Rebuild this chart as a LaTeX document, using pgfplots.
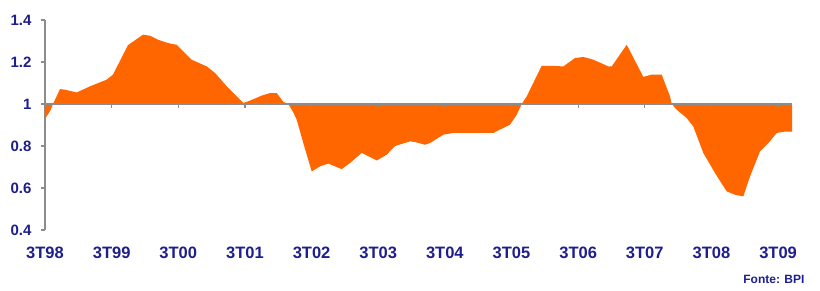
\documentclass[border=0pt]{standalone}
\usepackage{pgfplots}
\pgfplotsset{compat=1.18}
\usepackage{fontspec}
\setmainfont{Liberation Sans}
\definecolor{barorange}{RGB}{255,102,0}
\definecolor{navytxt}{RGB}{30,30,140}
\definecolor{axgray}{RGB}{140,140,140}
\pgfplotstableread{
x y
0 0.93
0.075 0.965
0.12 1.0
0.225 1.071
0.30 1.068
0.476 1.055
0.675 1.084
0.926 1.116
1.02 1.14
1.245 1.28
1.47 1.33
1.576 1.325
1.696 1.306
1.846 1.29
1.976 1.282
2.201 1.211
2.426 1.179
2.551 1.148
2.751 1.076
2.976 1.005
3.076 1.016
3.252 1.04
3.376 1.052
3.477 1.052
3.576 1.01
3.651 1.0
3.726 0.96
3.777 0.925
3.876 0.814
4.002 0.679
4.127 0.703
4.251 0.716
4.452 0.69
4.577 0.719
4.752 0.767
4.978 0.731
5.128 0.759
5.252 0.80
5.477 0.822
5.552 0.819
5.702 0.806
5.777 0.814
5.977 0.854
6.127 0.862
6.727 0.862
6.827 0.878
6.977 0.901
7.078 0.949
7.153 1.0
7.228 1.036
7.453 1.182
7.603 1.182
7.778 1.179
7.953 1.219
8.078 1.224
8.228 1.211
8.453 1.179
8.504 1.179
8.729 1.282
8.978 1.129
9.104 1.14
9.254 1.14
9.379 1.036
9.404 1.0
9.479 0.973
9.629 0.933
9.728 0.893
9.878 0.767
10.054 0.671
10.229 0.584
10.354 0.568
10.479 0.56
10.579 0.655
10.729 0.774
10.854 0.814
10.98 0.862
11.104 0.869
11.209 0.869
11.209 1
0 1
}\series
\begin{document}
\begin{tikzpicture}
\path[use as bounding box] (-45pt,-61pt) rectangle (775pt,230pt);
\begin{axis}[
  at={(0,0)}, anchor=south west,
  scale only axis, width=747pt, height=210pt,
  xmin=0, xmax=11.209, ymin=0.4, ymax=1.4,
  clip=false,
  axis x line*=bottom, axis y line*=left,
  x axis line style={draw=none},
  y axis line style={axgray, line width=1.3pt},
  xtick={0,1,...,11},
  xticklabels={3T98,3T99,3T00,3T01,3T02,3T03,3T04,3T05,3T06,3T07,3T08,3T09},
  xtick style={draw=none},
  ytick={0.4,0.6,0.8,1,1.2,1.4},
  yticklabels={0.4,0.6,0.8,1,1.2,1.4},
  ytick style={axgray, line width=1.2pt},
  tick align=outside,
  major tick length=4pt,
  /pgf/number format/assume math mode=true,
  tick label style={text=navytxt},
  xticklabel style={font=\fontsize{16.5}{18}\selectfont\bfseries, yshift=-9pt},
  yticklabel style={font=\fontsize{15}{17}\selectfont\bfseries, xshift=-6pt},
]
\addplot[fill=barorange, draw=none] table[x=x,y=y] {\series};
\draw[axgray, line width=1.6pt] (axis cs:0,1) -- (axis cs:11.209,1);
\pgfplotsinvokeforeach{1,...,11}{
  \draw[axgray, line width=1.2pt] (axis cs:#1,1) -- ++(0pt,-4pt);
}
\node[anchor=east, text=navytxt, font=\fontsize{12}{14}\selectfont\bfseries] at (axis cs:11.209,0.4) [yshift=-49pt, xshift=16pt] {Fonte: BPI};
\end{axis}
\end{tikzpicture}
\end{document}
